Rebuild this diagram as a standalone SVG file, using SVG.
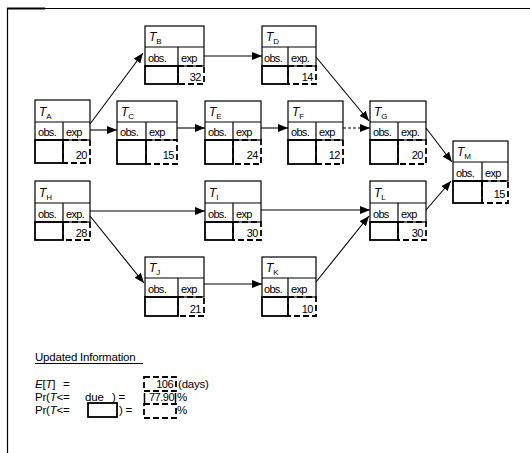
<svg xmlns="http://www.w3.org/2000/svg" width="530" height="453" viewBox="0 0 530 453">
<defs>
<marker id="arr" markerUnits="userSpaceOnUse" markerWidth="10" markerHeight="8" refX="10" refY="4" orient="auto">
<path d="M0,0 L10,4 L0,8 z" fill="#000"/>
</marker>
</defs>
<style>
text{font-family:"Liberation Sans",Arial,sans-serif;fill:#000;}
.box{fill:none;stroke:#000;stroke-width:1.2;}
.ln{stroke:#000;stroke-width:1.2;}
.vs{fill:none;stroke:#000;stroke-width:1.8;}
.vd{fill:none;stroke:#000;stroke-width:1.8;stroke-dasharray:6 3;}
.ti{font-size:12px;font-style:italic;}
.sub{font-size:8px;font-style:normal;}
.lb{font-size:11px;letter-spacing:-0.7px;}
.val{font-size:11px;text-anchor:end;letter-spacing:-0.5px;}
.con{stroke:#000;stroke-width:1.1;fill:none;marker-end:url(#arr);}
.bt{font-size:11.5px;letter-spacing:-0.2px;}
</style>
<rect width="530" height="453" fill="#fff"/>
<g id="frame">
<line x1="7" y1="8.5" x2="530" y2="8.5" stroke="#000" stroke-width="1.2"/>
<line x1="7" y1="8.5" x2="45" y2="8.5" stroke="#000" stroke-width="2.2"/>
<line x1="7.5" y1="8" x2="7.5" y2="453" stroke="#000" stroke-width="1.2"/>
</g>

<g id="connectors">
<line class="con" x1="90" y1="124" x2="143" y2="53"/>
<line class="con" x1="90" y1="130" x2="117" y2="130"/>
<line class="con" x1="177" y1="128" x2="205" y2="128"/>
<line class="con" x1="204" y1="56" x2="262" y2="56"/>
<line class="con" x1="261" y1="128" x2="288" y2="128"/>
<line class="con" x1="343" y1="128" x2="370" y2="128" stroke-dasharray="3 2"/>
<line class="con" x1="316" y1="57" x2="369" y2="121"/>
<line class="con" x1="426" y1="128" x2="452" y2="162"/>
<line class="con" x1="426" y1="210" x2="451" y2="181"/>
<line class="con" x1="90" y1="211" x2="205" y2="211"/>
<line class="con" x1="261" y1="210" x2="370" y2="210"/>
<line class="con" x1="90" y1="216" x2="144" y2="283"/>
<line class="con" x1="204" y1="284" x2="262" y2="284"/>
<line class="con" x1="316" y1="282" x2="369" y2="216"/>
</g>

<g id="node-A" transform="translate(35,100)">
<rect class="box" width="55" height="40"/><line class="ln" x1="0" y1="22" x2="55" y2="22"/><line class="ln" x1="28" y1="22" x2="28" y2="40"/>
<rect class="vs" x="0" y="40" width="28" height="23"/><rect class="vd" x="28" y="40" width="27" height="23"/>
<text class="ti" x="4" y="16">T<tspan class="sub" dy="3">A</tspan></text>
<text class="lb" x="3" y="36">obs.</text><text class="lb" x="31" y="36">exp</text>
<text class="val" x="52" y="59">20</text>
</g>

<g id="node-B" transform="translate(145,26)">
<rect class="box" width="59" height="40"/><line class="ln" x1="0" y1="21" x2="59" y2="21"/><line class="ln" x1="33" y1="21" x2="33" y2="40"/>
<rect class="vs" x="0" y="40" width="33" height="18"/><rect class="vd" x="33" y="40" width="26" height="18"/>
<text class="ti" x="4" y="15">T<tspan class="sub" dy="3">B</tspan></text>
<text class="lb" x="3" y="36">obs.</text><text class="lb" x="36" y="36">exp</text>
<text class="val" x="56" y="55">32</text>
</g>

<g id="node-C" transform="translate(117,101)">
<rect class="box" width="60" height="39"/><line class="ln" x1="0" y1="21" x2="60" y2="21"/><line class="ln" x1="29" y1="21" x2="29" y2="39"/>
<rect class="vs" x="0" y="39" width="29" height="24"/><rect class="vd" x="29" y="39" width="31" height="24"/>
<text class="ti" x="4" y="15">T<tspan class="sub" dy="3">C</tspan></text>
<text class="lb" x="3" y="35">obs.</text><text class="lb" x="32" y="35">exp</text>
<text class="val" x="57" y="58">15</text>
</g>

<g id="node-D" transform="translate(262,26)">
<rect class="box" width="54" height="40"/><line class="ln" x1="0" y1="21" x2="54" y2="21"/><line class="ln" x1="26" y1="21" x2="26" y2="40"/>
<rect class="vs" x="0" y="40" width="26" height="18"/><rect class="vd" x="26" y="40" width="28" height="18"/>
<text class="ti" x="4" y="15">T<tspan class="sub" dy="3">D</tspan></text>
<text class="lb" x="2" y="36">obs.</text><text class="lb" x="29" y="36">exp.</text>
<text class="val" x="51" y="55">14</text>
</g>

<g id="node-E" transform="translate(205,101)">
<rect class="box" width="56" height="39"/><line class="ln" x1="0" y1="21" x2="56" y2="21"/><line class="ln" x1="28" y1="21" x2="28" y2="39"/>
<rect class="vs" x="0" y="39" width="28" height="24"/><rect class="vd" x="28" y="39" width="28" height="24"/>
<text class="ti" x="4" y="15">T<tspan class="sub" dy="3">E</tspan></text>
<text class="lb" x="3" y="35">obs.</text><text class="lb" x="31" y="35">exp</text>
<text class="val" x="53" y="58">24</text>
</g>

<g id="node-F" transform="translate(288,101)">
<rect class="box" width="55" height="39"/><line class="ln" x1="0" y1="21" x2="55" y2="21"/><line class="ln" x1="28" y1="21" x2="28" y2="39"/>
<rect class="vs" x="0" y="39" width="28" height="24"/><rect class="vd" x="28" y="39" width="27" height="24"/>
<text class="ti" x="4" y="15">T<tspan class="sub" dy="3">F</tspan></text>
<text class="lb" x="3" y="35">obs.</text><text class="lb" x="31" y="35">exp</text>
<text class="val" x="52" y="58">12</text>
</g>

<g id="node-G" transform="translate(370,101)">
<rect class="box" width="56" height="39"/><line class="ln" x1="0" y1="21" x2="56" y2="21"/><line class="ln" x1="28" y1="21" x2="28" y2="39"/>
<rect class="vs" x="0" y="39" width="28" height="24"/><rect class="vd" x="28" y="39" width="28" height="24"/>
<text class="ti" x="4" y="15">T<tspan class="sub" dy="3">G</tspan></text>
<text class="lb" x="3" y="35">obs.</text><text class="lb" x="31" y="35">exp.</text>
<text class="val" x="53" y="58">20</text>
</g>

<g id="node-M" transform="translate(453,141)">
<rect class="box" width="55" height="40"/><line class="ln" x1="0" y1="21" x2="55" y2="21"/><line class="ln" x1="29" y1="21" x2="29" y2="40"/>
<rect class="vs" x="0" y="40" width="29" height="22"/><rect class="vd" x="29" y="40" width="26" height="22"/>
<text class="ti" x="4" y="15">T<tspan class="sub" dy="3">M</tspan></text>
<text class="lb" x="3" y="36">obs.</text><text class="lb" x="32" y="36">exp</text>
<text class="val" x="52" y="57">15</text>
</g>

<g id="node-H" transform="translate(35,181)">
<rect class="box" width="55" height="41"/><line class="ln" x1="0" y1="22" x2="55" y2="22"/><line class="ln" x1="28" y1="22" x2="28" y2="41"/>
<rect class="vs" x="0" y="41" width="28" height="18"/><rect class="vd" x="28" y="41" width="27" height="18"/>
<text class="ti" x="4" y="16">T<tspan class="sub" dy="3">H</tspan></text>
<text class="lb" x="3" y="37">obs.</text><text class="lb" x="31" y="37">exp.</text>
<text class="val" x="52" y="56">28</text>
</g>

<g id="node-I" transform="translate(205,181)">
<rect class="box" width="56" height="41"/><line class="ln" x1="0" y1="22" x2="56" y2="22"/><line class="ln" x1="28" y1="22" x2="28" y2="41"/>
<rect class="vs" x="0" y="41" width="28" height="18"/><rect class="vd" x="28" y="41" width="28" height="18"/>
<text class="ti" x="4" y="16">T<tspan class="sub" dy="3">I</tspan></text>
<text class="lb" x="3" y="37">obs.</text><text class="lb" x="31" y="37">exp</text>
<text class="val" x="53" y="56">30</text>
</g>

<g id="node-L" transform="translate(370,181)">
<rect class="box" width="56" height="41"/><line class="ln" x1="0" y1="22" x2="56" y2="22"/><line class="ln" x1="28" y1="22" x2="28" y2="41"/>
<rect class="vs" x="0" y="41" width="28" height="18"/><rect class="vd" x="28" y="41" width="28" height="18"/>
<text class="ti" x="4" y="16">T<tspan class="sub" dy="3">L</tspan></text>
<text class="lb" x="3" y="37">obs</text><text class="lb" x="31" y="37">exp</text>
<text class="val" x="53" y="56">30</text>
</g>

<g id="node-J" transform="translate(145,257)">
<rect class="box" width="59" height="40"/><line class="ln" x1="0" y1="21" x2="59" y2="21"/><line class="ln" x1="33" y1="21" x2="33" y2="40"/>
<rect class="vs" x="0" y="40" width="33" height="19"/><rect class="vd" x="33" y="40" width="26" height="19"/>
<text class="ti" x="4" y="15">T<tspan class="sub" dy="3">J</tspan></text>
<text class="lb" x="3" y="36">obs.</text><text class="lb" x="36" y="36">exp</text>
<text class="val" x="56" y="56">21</text>
</g>

<g id="node-K" transform="translate(262,257)">
<rect class="box" width="54" height="40"/><line class="ln" x1="0" y1="21" x2="54" y2="21"/><line class="ln" x1="26" y1="21" x2="26" y2="40"/>
<rect class="vs" x="0" y="40" width="26" height="19"/><rect class="vd" x="26" y="40" width="28" height="19"/>
<text class="ti" x="4" y="15">T<tspan class="sub" dy="3">K</tspan></text>
<text class="lb" x="2" y="36">obs.</text><text class="lb" x="29" y="36">exp</text>
<text class="val" x="51" y="56">10</text>
</g>

<g id="info">
<text class="bt" x="35" y="361">Updated Information</text>
<line x1="35" y1="363.5" x2="143" y2="363.5" stroke="#000" stroke-width="1"/>
<text class="bt" x="35" y="388"><tspan font-style="italic">E</tspan>[<tspan font-style="italic">T</tspan>]</text>
<text class="bt" x="63" y="388">=</text>
<rect class="vd" x="144" y="377" width="32" height="14"/>
<text class="val" x="173" y="388">106</text>
<text class="bt" x="178" y="388">(days)</text>
<text class="bt" x="35" y="401">Pr(<tspan font-style="italic">T</tspan>&lt;=</text>
<text class="bt" x="85" y="401">due</text>
<text class="bt" x="112" y="401">) =</text>
<line x1="144.5" y1="393" x2="144.5" y2="403" stroke="#000" stroke-width="1.5"/>
<line x1="175.5" y1="393" x2="175.5" y2="403" stroke="#000" stroke-width="1.5"/>
<text class="val" x="174" y="401">77.90</text>
<text class="bt" x="177" y="401">%</text>
<text class="bt" x="35" y="414">Pr(<tspan font-style="italic">T</tspan>&lt;=</text>
<rect x="88" y="403" width="29" height="14" fill="none" stroke="#000" stroke-width="1.8"/>
<text class="bt" x="119" y="414">) =</text>
<rect class="vd" x="144" y="404" width="32" height="14"/>
<text class="bt" x="177" y="414">%</text>
</g>
</svg>
